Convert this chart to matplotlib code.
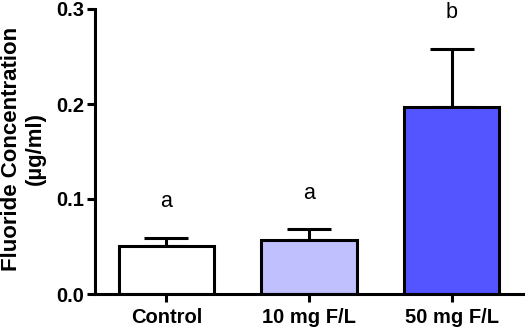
import numpy as np
import matplotlib
matplotlib.use("Agg")
import matplotlib.pyplot as plt

plt.rcParams['font.family'] = ['Liberation Sans', 'DejaVu Sans']

# data
groups = ["Control", "10 mg F/L", "50 mg F/L"]
means = [0.051, 0.057, 0.197]
errs = [0.008, 0.011, 0.061]
letters = ["a", "a", "b"]
colors = ["#ffffff", "#c0c0ff", "#5555ff"]

fig = plt.figure(figsize=(5.26, 3.32), dpi=100)
ax = fig.add_axes([95 / 526, 1 - 294 / 332, (523 - 95) / 526, (294 - 9) / 332])

x = np.arange(len(groups))
ax.bar(x, means, width=0.67, color=colors, edgecolor="black", linewidth=2.2, zorder=2)
ax.errorbar(x, means, yerr=[np.zeros(len(errs)), errs], fmt="none", ecolor="black",
            elinewidth=2.2, capsize=16, capthick=2.2, zorder=1)

for xi, m, e, lab in zip(x, means, errs, letters):
    ax.text(xi, m + e + 0.027, lab, ha="center", va="bottom", fontsize=15.5)

ax.set_xlim(-0.5, 2.5)
ax.set_ylim(0, 0.3)
ax.set_yticks([0.0, 0.1, 0.2, 0.3])
ax.set_yticklabels(["0.0", "0.1", "0.2", "0.3"])
ax.set_xticks(x)
ax.set_xticklabels(groups)
for lbl in ax.get_xticklabels() + ax.get_yticklabels():
    lbl.set_fontweight("bold")
    lbl.set_fontsize(14.5)

ax.spines["top"].set_visible(False)
ax.spines["right"].set_visible(False)
ax.spines["left"].set_linewidth(2.2)
ax.spines["bottom"].set_linewidth(2.2)
ax.tick_params(axis="y", width=2.2, length=6, pad=2)
ax.tick_params(axis="x", width=2.2, length=6, pad=4)

ax.set_ylabel("Fluoride Concentration\n(µg/ml)", fontsize=16, fontweight="bold", linespacing=1.15)
ax.yaxis.set_label_coords(-0.115, 0.51)

fig.savefig("out.png", dpi=100)
